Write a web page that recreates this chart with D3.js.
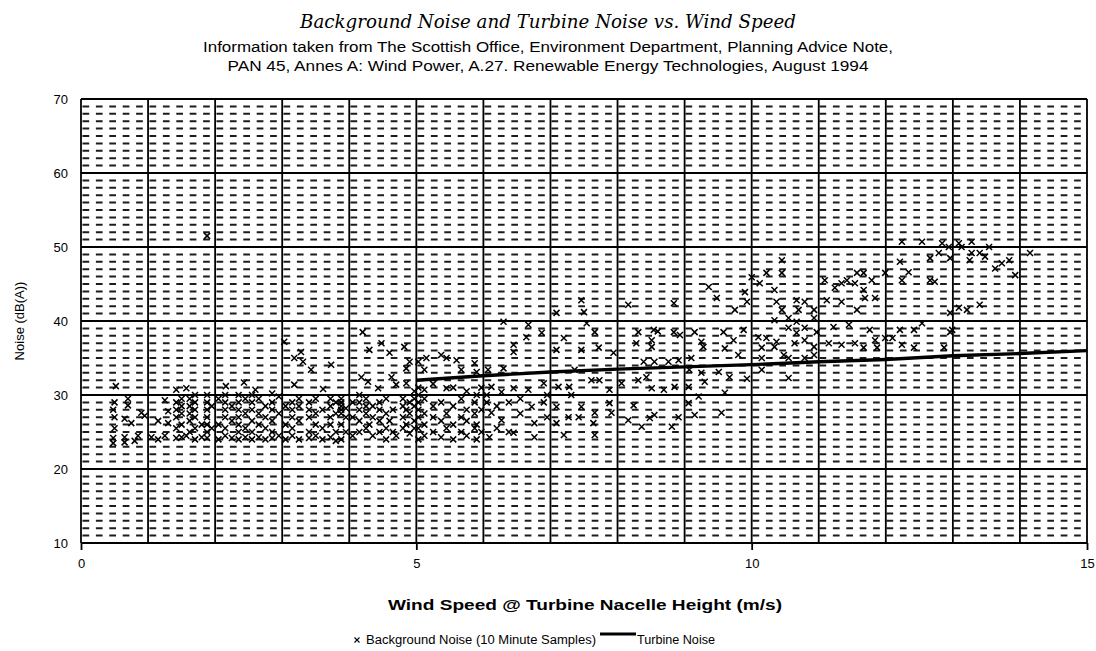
<!DOCTYPE html>
<html><head><meta charset="utf-8">
<script src="https://cdn.jsdelivr.net/npm/d3@7"></script>
<style>body{margin:0;background:#fff}svg{display:block}</style>
</head><body><svg id="chart" width="1096" height="651"></svg>
<script>
// ---------- data ----------
const speedTicks = [0, 5, 10, 15];
const noiseTicks = [10, 20, 30, 40, 50, 60, 70];
const turbineSpeed = [5, 6, 7, 8, 9, 10, 11, 12, 13, 14, 15];
const turbineNoise = [32.0, 32.6, 33.1, 33.5, 33.8, 34.1, 34.5, 34.8, 35.3, 35.6, 36.0];
// background noise samples [wind speed m/s, noise dB(A)]
const backgroundSamples = [
 [0.48,23.5],[0.48,24.2],[0.5,25.5],[0.5,27],[0.48,28],[0.5,29],[0.52,31.2],[0.65,23.6],[0.65,24.3],[0.65,26.8],[0.7,28.6],[0.7,29.5],[0.8,23.8],[0.85,24.5],[0.9,27.6],[0.95,27.2],[0.75,26.2],
 [1.05,24.3],[1.15,24.0],[1.15,26.5],[1.25,24.5],[1.25,29.3],[1.3,26.2],[1.3,27.8],[1.42,24.2],[1.42,25.5],[1.42,27.0],[1.42,28.0],[1.42,29.0],[1.42,30.7],[1.5,24.3],[1.5,26.0],[1.5,27.5],[1.5,28.5],[1.5,29.5],[1.57,30.9],[1.57,24.5],[1.62,25.0],[1.62,26.5],[1.62,27.5],[1.62,28.5],[1.62,29.5],[1.7,24.0],[1.7,25.5],[1.7,27.0],[1.7,28.0],[1.7,29.0],[1.7,30.0],[1.8,24.3],[1.8,26.0],[1.88,24.2],[1.88,25.0],[1.88,26.0],[1.88,27.0],[1.88,28.0],[1.88,29.0],[1.88,30.0],[1.88,51.5],[1.95,25.5],[1.95,28.5],
 [2.05,24.0],[2.05,26.0],[2.05,29.5],[2.15,24.5],[2.15,25.5],[2.15,27.0],[2.15,28.0],[2.15,29.0],[2.15,30.0],[2.16,31.2],[2.25,24.2],[2.25,26.5],[2.25,28.5],[2.35,24.0],[2.35,25.0],[2.35,26.0],[2.35,27.0],[2.35,28.0],[2.35,29.0],[2.35,30.0],[2.45,24.3],[2.45,25.5],[2.45,27.5],[2.45,29.5],[2.43,31.7],[2.55,24.0],[2.55,25.0],[2.55,26.5],[2.55,28.0],[2.55,29.0],[2.55,30.0],[2.65,24.3],[2.65,26.0],[2.65,27.5],[2.65,29.5],[2.6,30.7],[2.75,24.0],[2.75,25.5],[2.75,27.0],[2.75,28.5],[2.85,24.2],[2.85,25.0],[2.85,26.5],[2.85,28.0],[2.85,29.0],[2.85,30.2],[2.95,24.5],[2.95,27.5],[2.95,29.8],
 [3.05,24.0],[3.05,26.0],[3.05,28.5],[3.03,37.2],[3.15,24.5],[3.15,25.5],[3.15,27.0],[3.15,28.0],[3.15,29.0],[3.18,31.4],[3.18,35.0],[3.25,24.0],[3.25,26.5],[3.25,28.5],[3.25,29.5],[3.28,35.8],[3.31,34.5],[3.4,24.2],[3.4,25.0],[3.4,27.0],[3.4,28.0],[3.4,29.0],[3.43,33.4],[3.5,24.5],[3.5,26.0],[3.5,27.5],[3.5,29.5],[3.6,24.0],[3.6,25.5],[3.6,28.0],[3.61,30.8],[3.72,24.3],[3.72,26.0],[3.72,27.0],[3.72,28.5],[3.72,29.5],[3.73,34.1],[3.8,23.8],[3.8,25.0],[3.8,27.5],[3.8,29.0],[3.88,24.0],[3.88,26.0],[3.88,27.5],[3.88,28.0],[3.88,28.5],[3.88,29.0],[3.88,29.5],[3.95,25.0],[3.95,27.0],[3.95,28.2],
 [4.05,24.5],[4.05,27.0],[4.05,29.0],[4.15,25.0],[4.15,26.5],[4.15,28.0],[4.15,29.0],[4.15,30.0],[4.18,32.4],[4.2,38.5],[4.25,25.5],[4.25,27.5],[4.25,28.5],[4.25,29.5],[4.28,31.8],[4.3,36.1],[4.3,26.0],[4.35,24.5],[4.35,27.0],[4.35,28.5],[4.45,25.0],[4.45,26.5],[4.45,28.0],[4.45,29.0],[4.43,30.9],[4.48,37.0],[4.55,24.0],[4.55,25.5],[4.55,27.5],[4.55,29.5],[4.6,35.7],[4.6,26.5],[4.65,25.0],[4.65,28.0],[4.63,32.4],[4.7,31.4],[4.7,24.5],[4.8,25.5],[4.8,27.0],[4.8,28.5],[4.8,29.5],[4.82,36.5],[4.85,26.0],[4.85,28.0],[4.85,31.6],[4.85,33.6],[4.9,24.8],[4.9,27.5],[4.9,29.0],[4.9,34.5],[4.97,25.5],[4.97,26.5],[4.97,28.5],[4.97,29.5],[4.97,30.5],
 [5.03,24.0],[5.03,25.5],[5.03,27.0],[5.03,28.0],[5.03,29.0],[5.03,30.0],[5.03,31.0],[5.03,34.5],[5.12,24.5],[5.12,26.0],[5.12,27.5],[5.12,29.5],[5.12,30.7],[5.12,33.4],[5.15,35.0],[5.25,25.0],[5.25,27.0],[5.25,28.5],[5.25,31.5],[5.37,24.3],[5.37,26.5],[5.37,29.0],[5.37,35.4],[5.45,25.5],[5.45,27.5],[5.45,30.9],[5.45,35.0],[5.55,24.0],[5.55,26.0],[5.55,28.5],[5.55,31.0],[5.6,34.7],[5.67,25.0],[5.67,27.0],[5.67,29.5],[5.67,33.4],[5.75,24.5],[5.75,26.5],[5.75,28.0],[5.75,30.5],[5.87,25.5],[5.87,27.5],[5.87,29.0],[5.87,34.3],[5.9,24.0],[5.9,26.0],[5.9,30.0],[5.9,33.1],[5.97,25.0],[5.97,28.0],[5.97,31.0],
 [6.05,29.0],[6.05,30.0],[6.07,33.4],[6.12,31.1],[6.12,27.6],[6.09,24.3],[6.2,25.5],[6.2,28.5],[6.27,30.4],[6.27,26.6],[6.3,39.9],[6.3,33.6],[6.38,29.0],[6.38,25.0],[6.45,36.8],[6.45,35.8],[6.45,30.9],[6.45,24.9],[6.55,27.5],[6.55,29.5],[6.64,37.8],[6.67,39.5],[6.67,30.7],[6.72,28.4],[6.76,26.2],[6.76,24.3],[6.87,38.4],[6.9,31.6],[6.9,29.0],[6.95,27.0],[6.95,30.0],
 [7.46,42.8],[7.5,41.2],[7.09,41.1],[7.54,39.7],[7.66,38.5],[7.2,37.7],[7.09,36.1],[7.46,36.1],[7.72,36.4],[7.94,35.7],[7.36,33.4],[7.12,31.1],[7.28,31.1],[7.61,32.0],[7.73,32.0],[7.31,30.0],[7.09,28.4],[7.46,28.4],[7.66,27.6],[7.27,27.0],[7.09,26.2],[7.42,27.0],[7.64,26.2],[7.2,24.6],[7.66,24.6],[7.88,30.7],[7.88,28.9],[7.91,27.6],
 [8.16,42.2],[8.84,42.4],[8.31,38.5],[8.54,38.8],[8.6,38.6],[8.84,38.5],[8.28,37.0],[8.51,37.4],[8.51,36.5],[8.93,38.1],[8.39,34.5],[8.55,34.5],[8.76,34.5],[8.91,34.7],[8.06,31.6],[8.31,32.0],[8.43,32.4],[8.51,30.9],[8.69,30.7],[8.85,31.1],[8.24,28.6],[8.55,27.3],[8.16,26.6],[8.36,25.7],[8.91,27.0],[8.81,25.7],[8.48,26.9],
 [9.36,44.6],[9.48,43.1],[9.75,41.5],[9.9,43.9],[9.93,42.6],[9.15,38.5],[9.25,37.2],[9.28,36.5],[9.58,38.5],[9.6,36.3],[9.73,37.4],[9.88,38.8],[9.8,35.4],[9.1,35.0],[9.07,33.4],[9.25,33.0],[9.3,31.8],[9.06,31.1],[9.51,33.1],[9.67,32.4],[9.93,32.2],[9.6,30.3],[9.21,29.8],[9.06,28.9],[9.15,27.3],[9.55,27.6],
 [10.0,45.9],[10.12,45.1],[10.22,46.5],[10.45,48.2],[10.45,46.5],[10.34,44.2],[10.37,42.6],[10.45,41.5],[10.67,42.8],[10.79,42.6],[10.7,41.5],[10.93,41.5],[10.93,40.4],[10.34,40.1],[10.55,40.4],[10.67,39.9],[10.55,39.1],[10.67,38.4],[10.79,39.1],[10.97,38.5],[10.1,37.8],[10.22,37.7],[10.37,37.2],[10.15,36.4],[10.34,36.5],[10.64,37.0],[10.79,37.4],[10.93,36.5],[10.15,35.0],[10.48,35.4],[10.55,35.0],[10.79,35.0],[10.93,35.4],[10.15,33.4],[10.55,32.3],
 [11.09,45.5],[11.24,44.5],[11.34,45.1],[11.42,45.5],[11.57,46.5],[11.67,46.5],[11.79,45.5],[11.54,45.1],[11.67,44.2],[11.69,43.1],[11.84,43.1],[11.12,42.8],[11.34,42.6],[11.57,41.5],[11.22,39.2],[11.45,39.5],[11.76,38.8],[11.15,37.0],[11.34,36.8],[11.54,37.0],[11.67,36.4],[11.84,37.4],[11.87,36.4],
 [12.24,50.7],[12.54,50.7],[12.84,50.5],[12.21,48.0],[12.66,48.5],[12.79,49.2],[12.94,50.0],[12.96,48.5],[12.34,46.6],[12.24,45.5],[12.66,45.5],[12.73,45.3],[11.99,46.5],[12.96,41.1],[11.99,37.7],[12.1,37.7],[12.21,38.8],[12.42,38.8],[12.54,39.7],[12.24,36.8],[12.42,36.4],[12.87,36.4],[12.96,38.5],
 [13.09,50.5],[13.28,50.7],[13.13,50.0],[13.54,50.0],[13.28,49.2],[13.4,49.2],[13.48,48.7],[13.25,48.2],[13.63,47.1],[13.73,47.8],[13.84,48.2],[13.93,46.2],[13.09,41.8],[13.21,41.5],[13.4,42.2],[12.99,38.8],
 [14.15,49.2]
];

// ---------- chart ----------
const svg = d3.select('#chart');
const x = d3.scaleLinear().domain([0, 15]).range([81, 1087]);
const y = d3.scaleLinear().domain([10, 70]).range([543, 99]);
const sans = "'Liberation Sans', Arial, sans-serif";
const narrow = "'Liberation Sans Narrow', 'Liberation Sans', Arial, sans-serif";
const cross = 'M-3,-3L3,3M-3,3L3,-3';

// minor dashed gridlines every 1 dB
const minor = d3.range(11, 70).filter(v => v % 10 !== 0);
svg.append('g').selectAll('line').data(minor).join('line')
  .attr('x1', x(0)).attr('x2', x(15))
  .attr('y1', d => y(d)).attr('y2', d => y(d))
  .attr('stroke', '#1c1c1c').attr('stroke-width', 2)
  .attr('stroke-dasharray', '6.7,6.7').attr('stroke-dashoffset', -1.5);

// major gridlines
svg.append('g').selectAll('line').data(noiseTicks).join('line')
  .attr('x1', x(0)).attr('x2', x(15))
  .attr('y1', d => y(d)).attr('y2', d => y(d))
  .attr('stroke', '#000').attr('stroke-width', 1.8);
svg.append('g').selectAll('line').data(d3.range(0, 16)).join('line')
  .attr('x1', d => x(d)).attr('x2', d => x(d))
  .attr('y1', y(10)).attr('y2', y(70))
  .attr('stroke', '#000').attr('stroke-width', 1.8);

// axes
const xAxis = svg.append('g').attr('transform', `translate(0,${y(10)})`)
  .call(d3.axisBottom(x).tickValues(speedTicks).tickSize(7).tickPadding(9).tickFormat(d3.format('d')));
xAxis.select('.domain').remove();
xAxis.selectAll('line').attr('stroke', '#000').attr('stroke-width', 1.8);
xAxis.selectAll('text').attr('font-family', sans).attr('font-size', 13).attr('fill', '#000');

const yAxis = svg.append('g').attr('transform', `translate(${x(0)},0)`)
  .call(d3.axisLeft(y).tickValues(noiseTicks).tickSize(0).tickPadding(13).tickFormat(d3.format('d')));
yAxis.select('.domain').remove();
yAxis.selectAll('text').attr('font-family', sans).attr('font-size', 13).attr('fill', '#000');

// background noise samples
svg.append('g').selectAll('path').data(backgroundSamples).join('path')
  .attr('transform', d => `translate(${x(d[0])},${y(d[1])})`)
  .attr('d', cross)
  .attr('stroke', '#000').attr('stroke-width', 1.5).attr('fill', 'none');

// turbine noise line
const line = d3.line().x((d, i) => x(turbineSpeed[i])).y(d => y(d));
svg.append('path').datum(turbineNoise).attr('d', line)
  .attr('fill', 'none').attr('stroke', '#000').attr('stroke-width', 3.4);

// titles
svg.append('text').attr('x', 548).attr('y', 28).attr('text-anchor', 'middle')
  .attr('font-family', "'DejaVu Serif', 'Liberation Serif', serif").attr('font-style', 'italic')
  .attr('font-size', 18).attr('textLength', 496).attr('lengthAdjust', 'spacingAndGlyphs')
  .text('Background Noise and Turbine Noise vs. Wind Speed');
svg.append('text').attr('x', 548).attr('y', 52).attr('text-anchor', 'middle')
  .attr('font-family', narrow).attr('font-size', 14)
  .attr('textLength', 690).attr('lengthAdjust', 'spacingAndGlyphs')
  .text('Information taken from The Scottish Office, Environment Department, Planning Advice Note,');
svg.append('text').attr('x', 548).attr('y', 71).attr('text-anchor', 'middle')
  .attr('font-family', narrow).attr('font-size', 14)
  .attr('textLength', 641).attr('lengthAdjust', 'spacingAndGlyphs')
  .text('PAN 45, Annes A: Wind Power, A.27. Renewable Energy Technologies, August 1994');

// axis titles
svg.append('text').attr('transform', 'translate(24,321) rotate(-90)').attr('text-anchor', 'middle')
  .attr('font-family', sans).attr('font-size', 13).text('Noise (dB(A))');
svg.append('text').attr('x', 585).attr('y', 610).attr('text-anchor', 'middle')
  .attr('font-family', narrow).attr('font-weight', 'bold').attr('font-size', 14)
  .attr('textLength', 394).attr('lengthAdjust', 'spacingAndGlyphs')
  .text('Wind Speed @ Turbine Nacelle Height (m/s)');

// legend
const lg = svg.append('g');
lg.append('path').attr('transform', 'translate(357,640)')
  .attr('d', 'M-2.5,-2.5L2.5,2.5M-2.5,2.5L2.5,-2.5').attr('stroke', '#000').attr('stroke-width', 1.1);
lg.append('text').attr('x', 366).attr('y', 644).attr('font-family', narrow).attr('font-size', 12)
  .attr('textLength', 230).attr('lengthAdjust', 'spacingAndGlyphs')
  .text('Background Noise (10 Minute Samples)');
lg.append('line').attr('x1', 600).attr('x2', 636).attr('y1', 634).attr('y2', 634)
  .attr('stroke', '#000').attr('stroke-width', 3);
lg.append('text').attr('x', 637).attr('y', 644).attr('font-family', narrow).attr('font-size', 12)
  .attr('textLength', 78).attr('lengthAdjust', 'spacingAndGlyphs')
  .text('Turbine Noise');
</script></body></html>
